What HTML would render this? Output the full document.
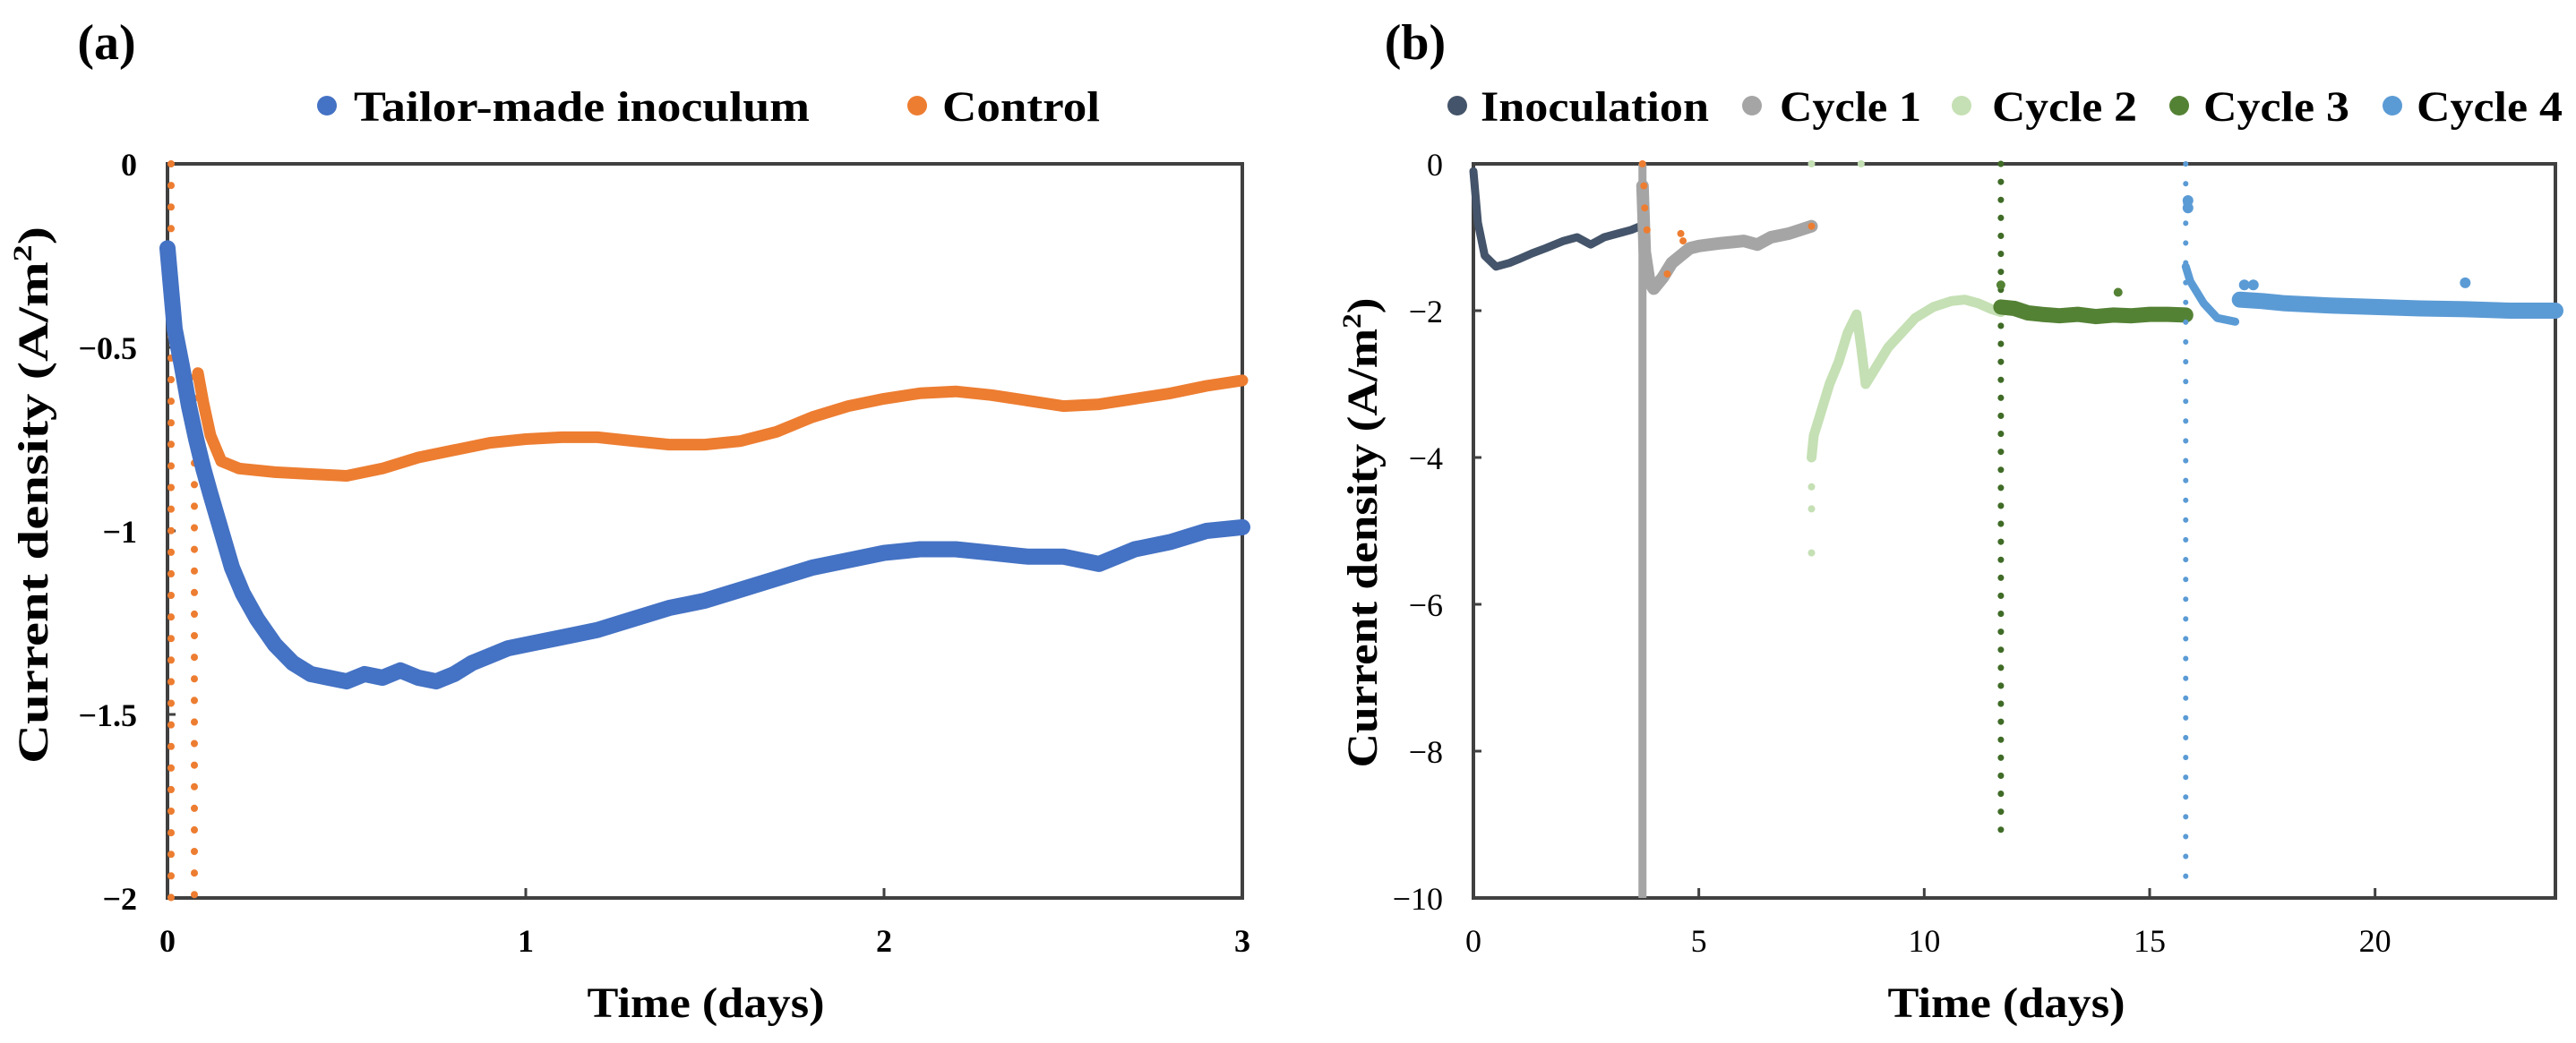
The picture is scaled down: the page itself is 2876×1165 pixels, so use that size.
<!DOCTYPE html>
<html><head><meta charset="utf-8">
<style>
html,body{margin:0;padding:0;background:#fff;}
svg{display:block;font-family:"Liberation Serif",serif;}
</style></head>
<body>
<svg id="fig" width="2876" height="1165" viewBox="0 0 2876 1165" xmlns="http://www.w3.org/2000/svg">
  <text x="119" y="66" font-size="56" font-weight="bold" text-anchor="middle">(a)</text>
  <text x="1580" y="66" font-size="56" font-weight="bold" text-anchor="middle">(b)</text>
  <g>
    <g><circle cx="365" cy="118" r="11" fill="#4472c4"/><text x="395" y="135" font-size="48" font-weight="bold" textLength="509" lengthAdjust="spacingAndGlyphs">Tailor-made inoculum</text></g>
    <g><circle cx="1024" cy="118" r="11" fill="#ed7d31"/><text x="1052" y="135" font-size="48" font-weight="bold" textLength="176" lengthAdjust="spacingAndGlyphs">Control</text></g>
  </g>
  <g>
    <g><circle cx="1627" cy="118" r="11" fill="#44546a"/><text x="1653" y="135" font-size="48" font-weight="bold" textLength="255" lengthAdjust="spacingAndGlyphs">Inoculation</text></g>
    <g><circle cx="1956" cy="118" r="11" fill="#a5a5a5"/><text x="1987" y="135" font-size="48" font-weight="bold" textLength="158" lengthAdjust="spacingAndGlyphs">Cycle 1</text></g>
    <g><circle cx="2190" cy="118" r="11" fill="#c5e0b4"/><text x="2224" y="135" font-size="48" font-weight="bold" textLength="162" lengthAdjust="spacingAndGlyphs">Cycle 2</text></g>
    <g><circle cx="2433" cy="118" r="11" fill="#548235"/><text x="2460" y="135" font-size="48" font-weight="bold" textLength="163" lengthAdjust="spacingAndGlyphs">Cycle 3</text></g>
    <g><circle cx="2671" cy="118" r="11" fill="#5b9bd5"/><text x="2698" y="135" font-size="48" font-weight="bold" textLength="163" lengthAdjust="spacingAndGlyphs">Cycle 4</text></g>
  </g>
  <text x="788" y="1136" font-size="48" font-weight="bold" text-anchor="middle" textLength="265" lengthAdjust="spacingAndGlyphs">Time (days)</text>
  <text x="2240" y="1136" font-size="48" font-weight="bold" text-anchor="middle" textLength="265" lengthAdjust="spacingAndGlyphs">Time (days)</text>
  <text transform="translate(53,553) rotate(-90)" font-size="48" font-weight="bold" text-anchor="middle" textLength="600" lengthAdjust="spacingAndGlyphs">Current density (A/m<tspan font-size="30" dy="-18">2</tspan><tspan dy="18">)</tspan></text>
  <text transform="translate(1537,595) rotate(-90)" font-size="48" font-weight="bold" text-anchor="middle" textLength="525" lengthAdjust="spacingAndGlyphs">Current density (A/m<tspan font-size="30" dy="-18">2</tspan><tspan dy="18">)</tspan></text>
  <g id="plotA"></g>
  <g id="plotB"></g>
</svg>
<script>
// ---------- Panel (a) data ----------
const aXTicks = [0, 1, 2, 3];
const aYTicks = [0, -0.5, -1, -1.5, -2];
const aYTickLabels = ["0", "\u22120.5", "\u22121", "\u22121.5", "\u22122"];
const blueT = [0,0.02,0.04,0.06,0.08,0.1,0.12,0.15,0.18,0.21,0.25,0.3,0.35,0.4,0.45,0.5,0.55,0.6,0.65,0.7,0.75,0.8,0.85,0.9,0.95,1.0,1.1,1.2,1.3,1.4,1.5,1.6,1.7,1.8,1.9,2.0,2.1,2.2,2.3,2.4,2.5,2.6,2.7,2.8,2.9,3.0];
const blueV = [-0.23,-0.45,-0.55,-0.66,-0.75,-0.83,-0.9,-1.0,-1.1,-1.17,-1.24,-1.31,-1.36,-1.39,-1.4,-1.41,-1.39,-1.4,-1.38,-1.4,-1.41,-1.39,-1.36,-1.34,-1.32,-1.31,-1.29,-1.27,-1.24,-1.21,-1.19,-1.16,-1.13,-1.1,-1.08,-1.06,-1.05,-1.05,-1.06,-1.07,-1.07,-1.09,-1.05,-1.03,-1.0,-0.99];
const ctrlT = [0.085,0.1,0.12,0.15,0.2,0.3,0.4,0.5,0.6,0.7,0.8,0.9,1.0,1.1,1.2,1.3,1.4,1.5,1.6,1.7,1.8,1.9,2.0,2.1,2.2,2.3,2.4,2.5,2.6,2.7,2.8,2.9,3.0];
const ctrlV = [-0.57,-0.65,-0.74,-0.81,-0.83,-0.84,-0.845,-0.85,-0.83,-0.8,-0.78,-0.76,-0.75,-0.745,-0.745,-0.755,-0.765,-0.765,-0.755,-0.73,-0.69,-0.66,-0.64,-0.625,-0.62,-0.63,-0.645,-0.66,-0.655,-0.64,-0.625,-0.605,-0.59];
const ctrlDropT = [0.01, 0.075];
const ctrlDropTop = [0, -0.58];
const ctrlDropBottom = [-2, -2];

// ---------- Panel (b) data ----------
const bXTicks = [0, 5, 10, 15, 20];
const bYTicks = [0, -2, -4, -6, -8, -10];
const bYTickLabels = ["0", "\u22122", "\u22124", "\u22126", "\u22128", "\u221210"];
const inocT = [0,0.1,0.25,0.5,0.8,1.0,1.3,1.6,2.0,2.3,2.6,2.9,3.2,3.5,3.7];
const inocV = [-0.1,-0.8,-1.25,-1.4,-1.35,-1.3,-1.22,-1.15,-1.05,-1.0,-1.1,-1.0,-0.95,-0.9,-0.85];
const c1T = [3.75,3.8,3.9,4.0,4.2,4.4,4.6,4.8,5.0,5.5,6.0,6.3,6.6,7.0,7.5];
const c1V = [-0.3,-1.2,-1.6,-1.7,-1.55,-1.35,-1.25,-1.15,-1.12,-1.08,-1.05,-1.1,-1.0,-0.95,-0.85];
const c1DropT = [3.75];
const c1DropTop = [0];
const c1DropBottom = [-10];
const orangeBT = [3.75,3.78,3.8,3.85,4.3,4.6,4.65,7.5];
const orangeBV = [0,-0.3,-0.6,-0.9,-1.5,-0.95,-1.05,-0.85];
const c2T = [7.5,7.55,7.7,7.9,8.1,8.3,8.5,8.6,8.7,8.9,9.2,9.5,9.8,10.2,10.6,10.9,11.2,11.5,11.7];
const c2V = [-4.0,-3.7,-3.4,-3.0,-2.7,-2.3,-2.05,-2.5,-3.0,-2.8,-2.5,-2.3,-2.1,-1.95,-1.87,-1.85,-1.9,-1.98,-2.02];
const c2OutT = [7.5,7.5,7.5,8.6,7.5];
const c2OutV = [-4.7,-5.3,0,0,-4.4];
const c3T = [11.7,12.0,12.3,12.6,13.0,13.4,13.8,14.2,14.6,15.0,15.4,15.8];
const c3V = [-1.95,-1.97,-2.03,-2.05,-2.07,-2.05,-2.08,-2.06,-2.07,-2.05,-2.05,-2.06];
const c3DropT = [11.7];
const c3DropTop = [0];
const c3DropBottom = [-9.3];
const c3OutT = [14.3, 11.7];
const c3OutV = [-1.75, -1.65];
const c4aT = [15.8,15.9,16.2,16.5,16.9];
const c4aV = [-1.4,-1.6,-1.9,-2.1,-2.15];
const c4T = [17,17.5,18,19,20,21,22,23,24];
const c4V = [-1.85,-1.87,-1.9,-1.93,-1.95,-1.97,-1.98,-2.0,-2.0];
const c4DropT = [15.8];
const c4DropTop = [0];
const c4DropBottom = [-9.9];
const c4OutT = [15.85,15.85,17.1,17.3,22];
const c4OutV = [-0.5,-0.6,-1.65,-1.65,-1.62];

const NS = "http://www.w3.org/2000/svg";
function mk(tag, attrs, parent) {
  const e = document.createElementNS(NS, tag);
  for (const k in attrs) e.setAttribute(k, attrs[k]);
  parent.appendChild(e);
  return e;
}

function buildPanel(g, box, xMax, yMin, xTicks, yTicks, yLabels, bold) {
  const sx = v => box.l + (v / xMax) * (box.r - box.l);
  const sy = v => box.t + (v / yMin) * (box.b - box.t);
  const frame = mk("rect", {x: box.l, y: box.t, width: box.r - box.l, height: box.b - box.t, fill: "none", stroke: "#404040", "stroke-width": 4}, g);
  
  
  xTicks.forEach(v => {
    const tk = mk("line", {x1: sx(v), x2: sx(v), y1: box.b, y2: box.b - 11, stroke: "#404040", "stroke-width": 3}, g);
    
    
    const tl = mk("text", {x: sx(v), y: 1063, "font-size": 36, "font-weight": bold ? "bold" : "normal", "text-anchor": "middle"}, g);
    tl.textContent = String(v);
    
    
  });
  yTicks.forEach((v, i) => {
    const tk = mk("line", {x1: box.l, x2: box.l + 9, y1: sy(v), y2: sy(v), stroke: "#404040", "stroke-width": 3}, g);
    
    
    const tl = mk("text", {x: box.l - 34, y: sy(v) + 13, "font-size": 36, "font-weight": bold ? "bold" : "normal", "text-anchor": "end"}, g);
    tl.textContent = yLabels[i];
    
    
  });
  return {sx, sy};
}

function band(g, s, T, V, color, w, name) {
  const pts = T.map((t, i) => s.sx(t).toFixed(1) + "," + s.sy(V[i]).toFixed(1)).join(" ");
  const pl = mk("polyline", {points: pts, fill: "none", stroke: color, "stroke-width": w, "stroke-linejoin": "round", "stroke-linecap": "round"}, g);
  
  
}
function dots(g, s, T, V, color, r, name) {
  T.forEach((t, i) => {
    const c = mk("circle", {cx: s.sx(t), cy: s.sy(V[i]), r: r, fill: color}, g);
    
    
  });
}
function drops(g, s, T, top, bot, color, w, dash, name) {
  T.forEach((t, i) => {
    const attrs = {x1: s.sx(t), x2: s.sx(t), y1: s.sy(top[i]), y2: s.sy(bot[i]), stroke: color, "stroke-width": w};
    if (dash) { attrs["stroke-dasharray"] = dash; attrs["stroke-linecap"] = "round"; }
    const l = mk("line", attrs, g);
    
    
  });
}

// Panel a
const gA = document.getElementById("plotA");
const boxA = {l: 187, r: 1387, t: 183, b: 1003};
const sA = buildPanel(gA, boxA, 3, -2, aXTicks, aYTicks, aYTickLabels, true);
drops(gA, sA, ctrlDropT, ctrlDropTop, ctrlDropBottom, "#ed7d31", 8, "0.1 24", "control-drop-dots");
band(gA, sA, ctrlT, ctrlV, "#ed7d31", 13, "control-series");
band(gA, sA, blueT, blueV, "#4472c4", 18, "tailor-made-series");
dots(gA, sA, blueT, blueV, "#4472c4", 7, "tailor-made-point");

// Panel b
const gB = document.getElementById("plotB");
const boxB = {l: 1645, r: 2853, t: 183, b: 1003};
const sB = buildPanel(gB, boxB, 24, -10, bXTicks, bYTicks, bYTickLabels, false);
band(gB, sB, inocT, inocV, "#44546a", 9, "inoculation-series");
drops(gB, sB, c1DropT, c1DropTop, c1DropBottom, "#a5a5a5", 9, null, "cycle-1-drop");
band(gB, sB, c1T, c1V, "#a5a5a5", 14, "cycle-1-series");
dots(gB, sB, orangeBT, orangeBV, "#ed7d31", 4, "cycle-1-orange-point");
band(gB, sB, c2T, c2V, "#c5e0b4", 11, "cycle-2-series");
dots(gB, sB, c2OutT, c2OutV, "#c5e0b4", 4, "cycle-2-outlier");
drops(gB, sB, c3DropT, c3DropTop, c3DropBottom, "#3f6b26", 7, "0.1 20", "cycle-3-drop-dots");
band(gB, sB, c3T, c3V, "#548235", 17, "cycle-3-series");
dots(gB, sB, c3OutT, c3OutV, "#548235", 5, "cycle-3-outlier");
drops(gB, sB, c4DropT, c4DropTop, c4DropBottom, "#5b9bd5", 6, "0.1 22", "cycle-4-drop-dots");
band(gB, sB, c4aT, c4aV, "#5b9bd5", 9, "cycle-4-initial-series");
band(gB, sB, c4T, c4V, "#5b9bd5", 18, "cycle-4-series");
dots(gB, sB, c4OutT, c4OutV, "#5b9bd5", 6, "cycle-4-outlier");
</script>
</body></html>
